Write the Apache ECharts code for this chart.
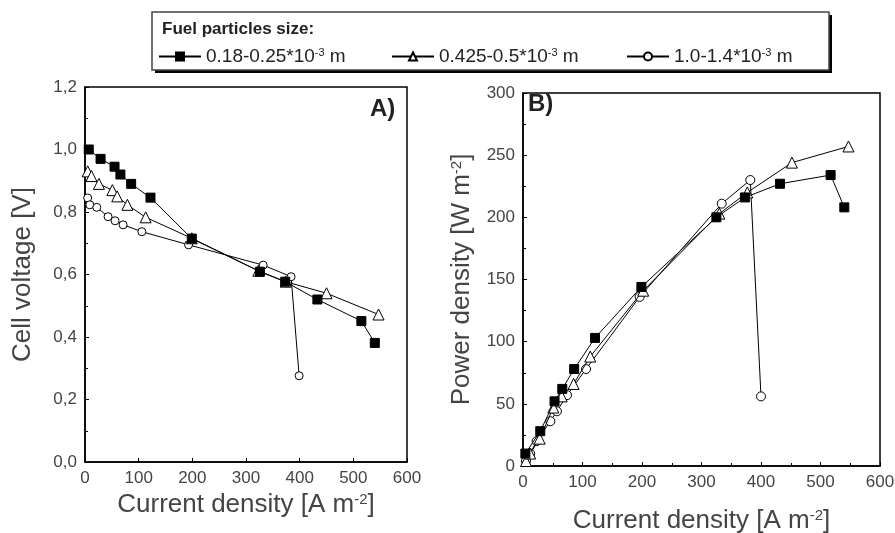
<!DOCTYPE html>
<html>
<head>
<meta charset="utf-8">
<script src="https://cdn.jsdelivr.net/npm/echarts@6/dist/echarts.min.js"></script>
<style>
  html, body { margin: 0; padding: 0; background: #fff; }
  #main { width: 895px; height: 533px; }
</style>
</head>
<body>
<div id="main"></div>
<script>
// series names (legend)
var seriesNames = ['0.18-0.25*10-3 m', '0.425-0.5*10-3 m', '1.0-1.4*10-3 m'];

// panel A: cell voltage vs current density
var currentA1 = [7, 29, 55, 66, 86, 122, 199, 326, 373, 433, 515, 540];
var voltageA1 = [1.0, 0.97, 0.945, 0.92, 0.89, 0.846, 0.715, 0.609, 0.577, 0.52, 0.451, 0.381];
var currentA2 = [5, 12, 26, 51, 60, 79, 113, 199, 323, 374, 450, 547];
var voltageA2 = [0.93, 0.915, 0.89, 0.87, 0.85, 0.823, 0.783, 0.716, 0.612, 0.577, 0.54, 0.472];
var currentA3 = [5, 9, 22, 43, 56, 71, 106, 193, 332, 384, 399];
var voltageA3 = [0.845, 0.823, 0.815, 0.785, 0.772, 0.759, 0.737, 0.695, 0.63, 0.593, 0.276];

// panel B: power density vs current density
var currentB1 = [4, 29, 53, 66, 86, 121, 199, 325, 373, 432, 517, 540];
var powerB1 = [10, 28, 52, 62, 78, 103, 144, 200, 216, 227, 234, 208];
var currentB2 = [5, 12, 28, 51, 65, 85, 113, 202, 330, 377, 452, 547];
var powerB2 = [4, 10, 22, 47, 56, 66, 88, 141, 203, 220, 244, 257];
var currentB3 = [5, 12, 23, 46, 57, 74, 106, 196, 334, 382, 400];
var powerB3 = [4, 10, 20, 36, 44, 57, 78, 136, 211, 230, 56];

function pairs(xs, ys) {
    var out = [];
    for (var i = 0; i < xs.length; i++) out.push([xs[i], ys[i]]);
    return out;
}

var myChart = echarts.init(document.getElementById('main'));

var labelFont = 'Liberation Sans';
var symbols = ['rect', 'triangle', 'circle'];
var fills = ['#000', '#fff', '#fff'];
var sizesA = [9, 11, 8];
var sizesB = [9, 11, 9];

function makeSeries(name, idx, data, axisIdx, size) {
    return {
        name: name,
        type: 'line',
        xAxisIndex: axisIdx,
        yAxisIndex: axisIdx,
        data: data,
        symbol: symbols[idx],
        symbolSize: size,
        showAllSymbol: true,
        itemStyle: { color: fills[idx], borderColor: '#000', borderWidth: 1 },
        lineStyle: { color: '#000', width: 1 },
        emphasis: { disabled: true },
        animation: false,
        z: 3 - idx
    };
}

function axisCommon() {
    return {
        axisLine: { show: true, onZero: false, lineStyle: { color: '#000', width: 1.5 } },
        axisTick: { show: true, inside: true, length: 4, lineStyle: { color: '#000' } },
        minorTick: { show: true, splitNumber: 2, length: 3, lineStyle: { color: '#000' } },
        splitLine: { show: false },
        axisLabel: { color: '#444', fontSize: 17, fontFamily: labelFont, margin: 8 },
        nameTextStyle: {
            color: '#444', fontSize: 26, fontFamily: labelFont,
            rich: { sup: { fontSize: 15, verticalAlign: 'top', color: '#444', fontFamily: labelFont } }
        }
    };
}

function comma(v) {
    return v.toFixed(1).replace('.', ',');
}

var xA = axisCommon();
xA.gridIndex = 0; xA.type = 'value'; xA.min = 0; xA.max = 600; xA.interval = 100;
xA.minorTick = { show: false };
xA.name = 'Current density [A m{sup|-2}]'; xA.nameLocation = 'middle'; xA.nameGap = 24;

var yA = axisCommon();
yA.gridIndex = 0; yA.type = 'value'; yA.min = 0; yA.max = 1.2; yA.interval = 0.2;
yA.axisLabel.formatter = comma;
yA.name = 'Cell voltage [V]'; yA.nameLocation = 'middle'; yA.nameGap = 49;

var xB = axisCommon();
xB.gridIndex = 1; xB.type = 'value'; xB.min = 0; xB.max = 600; xB.interval = 100;
xB.name = 'Current density [A m{sup|-2}]'; xB.nameLocation = 'middle'; xB.nameGap = 42;

var yB = axisCommon();
yB.gridIndex = 1; yB.type = 'value'; yB.min = 0; yB.max = 300; yB.interval = 50;
yB.name = 'Power density [W m{sup|-2}]'; yB.nameLocation = 'middle'; yB.nameGap = 48;

var legendRich = { sup: { fontSize: 11, verticalAlign: 'top', color: '#222', fontFamily: labelFont } };
function legendAt(left, name) {
    return {
        data: [name],
        left: left,
        top: 42,
        itemWidth: 42,
        itemHeight: 10,
        itemGap: 8,
        selectedMode: false,
        formatter: function (n) { return n.replace('10-3', '10{sup|-3}'); },
        textStyle: { color: '#222', fontSize: 19, fontFamily: labelFont, rich: legendRich }
    };
}

var option = {
    backgroundColor: '#fff',
    animation: false,
    title: {
        text: 'Fuel particles size:',
        left: 157,
        top: 16,
        textStyle: { color: '#222', fontSize: 17, fontWeight: 'bold', fontFamily: labelFont }
    },
    graphic: [
        { type: 'rect', shape: { x: 155, y: 15, width: 677, height: 58 }, style: { fill: '#000' }, z: -2 },
        { type: 'rect', shape: { x: 152, y: 12, width: 677, height: 58 }, style: { fill: '#fff', stroke: '#444', lineWidth: 1.5 }, z: -1 },
        { type: 'text', left: 370, top: 97, style: { text: 'A)', font: 'bold 24px Liberation Sans', fill: '#222' } },
        { type: 'text', left: 528, top: 92, style: { text: 'B)', font: 'bold 24px Liberation Sans', fill: '#222' } }
    ],
    legend: [
        legendAt(153, seriesNames[0]),
        legendAt(386, seriesNames[1]),
        legendAt(621, seriesNames[2])
    ],
    grid: [
        { left: 85, top: 87, width: 322, height: 375, show: true, borderColor: '#000', borderWidth: 1.5, containLabel: false, outerBoundsMode: 'none' },
        { left: 523, top: 93, width: 357, height: 373, show: true, borderColor: '#000', borderWidth: 1.5, containLabel: false, outerBoundsMode: 'none' }
    ],
    xAxis: [xA, xB],
    yAxis: [yA, yB],
    series: [
        makeSeries(seriesNames[0], 0, pairs(currentA1, voltageA1), 0, sizesA[0]),
        makeSeries(seriesNames[1], 1, pairs(currentA2, voltageA2), 0, sizesA[1]),
        makeSeries(seriesNames[2], 2, pairs(currentA3, voltageA3), 0, sizesA[2]),
        makeSeries(seriesNames[0], 0, pairs(currentB1, powerB1), 1, sizesB[0]),
        makeSeries(seriesNames[1], 1, pairs(currentB2, powerB2), 1, sizesB[1]),
        makeSeries(seriesNames[2], 2, pairs(currentB3, powerB3), 1, sizesB[2])
    ]
};

myChart.setOption(option);
</script>
</body>
</html>
